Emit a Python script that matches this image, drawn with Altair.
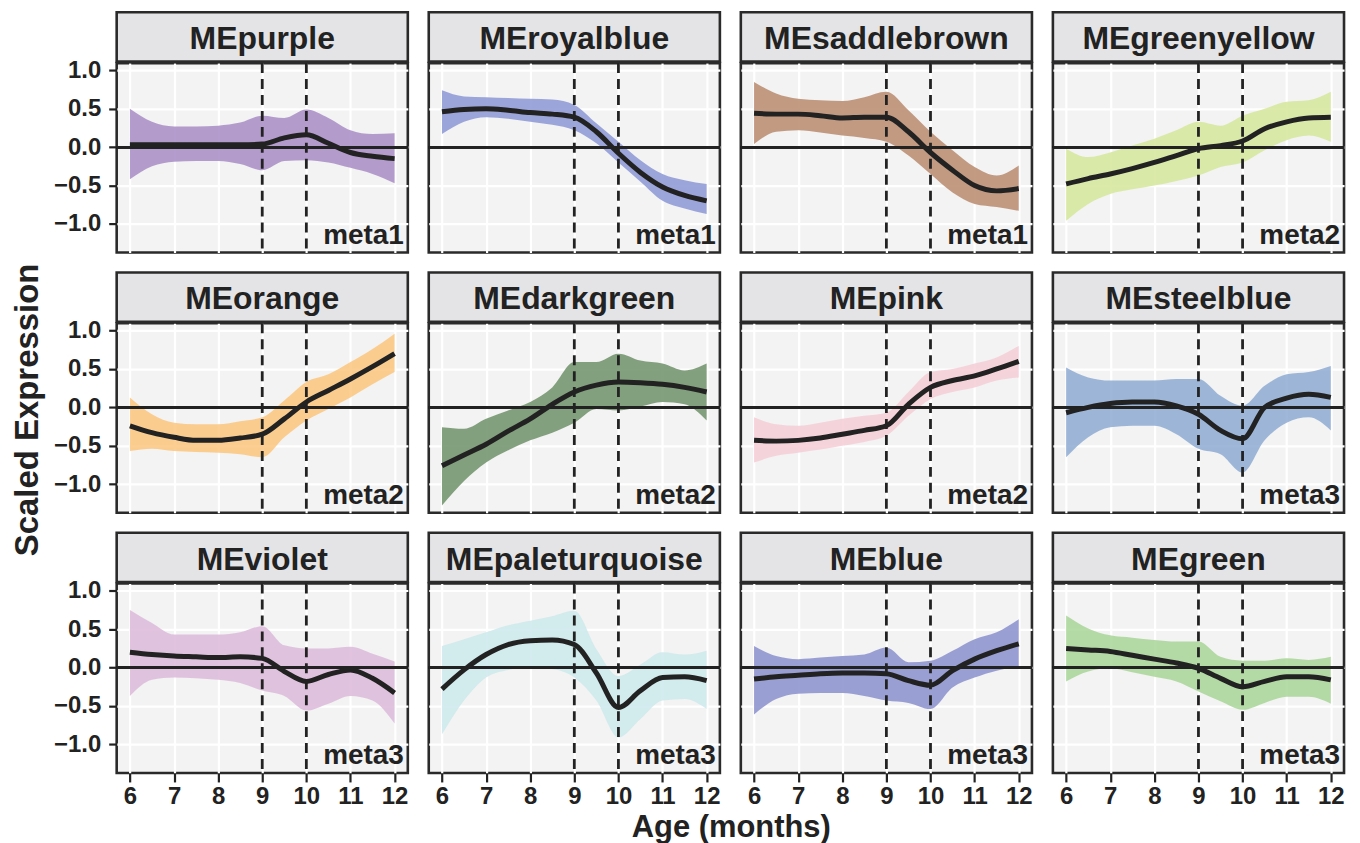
import altair as alt
import pandas as pd

ages = [6, 6.5, 7, 7.5, 8, 8.5, 9, 9.5, 10, 10.5, 11, 11.5, 12]

modules = ["MEpurple", "MEroyalblue", "MEsaddlebrown", "MEgreenyellow",
           "MEorange", "MEdarkgreen", "MEpink", "MEsteelblue",
           "MEviolet", "MEpaleturquoise", "MEblue", "MEgreen"]
metas = ["meta1", "meta1", "meta1", "meta2",
         "meta2", "meta2", "meta2", "meta3",
         "meta3", "meta3", "meta3", "meta3"]
fills = ["#a88bc5", "#8c96d5", "#b98a6d", "#d5e69a",
         "#fbc67e", "#6f9069", "#f6cdd6", "#8eaad2",
         "#dcb8d9", "#cce9ec", "#8a8fcc", "#a8d596"]

fit = {
    "MEpurple": [0.03, 0.03, 0.03, 0.03, 0.03, 0.03, 0.04, 0.12, 0.16, 0.05, -0.07, -0.12, -0.15],
    "MEroyalblue": [0.46, 0.49, 0.50, 0.48, 0.45, 0.43, 0.39, 0.20, -0.08, -0.33, -0.52, -0.63, -0.70],
    "MEsaddlebrown": [0.44, 0.43, 0.43, 0.41, 0.38, 0.39, 0.39, 0.20, -0.07, -0.30, -0.50, -0.57, -0.54],
    "MEgreenyellow": [-0.48, -0.41, -0.35, -0.28, -0.20, -0.11, -0.02, 0.02, 0.08, 0.24, 0.33, 0.38, 0.39],
    "MEorange": [-0.24, -0.33, -0.39, -0.43, -0.43, -0.40, -0.35, -0.15, 0.07, 0.22, 0.37, 0.53, 0.70],
    "MEdarkgreen": [-0.76, -0.62, -0.48, -0.31, -0.15, 0.04, 0.20, 0.29, 0.33, 0.32, 0.30, 0.26, 0.20],
    "MEpink": [-0.43, -0.44, -0.43, -0.40, -0.35, -0.30, -0.24, 0.04, 0.26, 0.35, 0.41, 0.50, 0.60],
    "MEsteelblue": [-0.07, 0.00, 0.05, 0.07, 0.07, 0.02, -0.09, -0.30, -0.41, 0.00, 0.12, 0.17, 0.13],
    "MEviolet": [0.20, 0.17, 0.15, 0.14, 0.13, 0.14, 0.12, -0.05, -0.18, -0.09, -0.03, -0.14, -0.33],
    "MEpaleturquoise": [-0.28, -0.03, 0.17, 0.30, 0.35, 0.36, 0.30, -0.07, -0.52, -0.30, -0.13, -0.12, -0.17],
    "MEblue": [-0.15, -0.12, -0.10, -0.08, -0.07, -0.07, -0.08, -0.17, -0.23, -0.04, 0.11, 0.22, 0.31],
    "MEgreen": [0.25, 0.23, 0.21, 0.16, 0.11, 0.06, -0.01, -0.14, -0.25, -0.18, -0.12, -0.12, -0.16],
}
lower = {
    "MEpurple": [-0.42, -0.25, -0.19, -0.18, -0.18, -0.22, -0.30, -0.18, -0.17, -0.20, -0.27, -0.35, -0.47],
    "MEroyalblue": [0.17, 0.33, 0.39, 0.37, 0.33, 0.29, 0.22, 0.05, -0.20, -0.45, -0.70, -0.80, -0.87],
    "MEsaddlebrown": [0.04, 0.20, 0.22, 0.19, 0.15, 0.12, 0.07, -0.11, -0.35, -0.59, -0.74, -0.78, -0.83],
    "MEgreenyellow": [-0.96, -0.74, -0.61, -0.55, -0.50, -0.44, -0.37, -0.26, -0.20, -0.04, 0.09, 0.15, 0.07],
    "MEorange": [-0.57, -0.54, -0.57, -0.58, -0.59, -0.61, -0.65, -0.39, -0.17, -0.02, 0.13, 0.30, 0.46],
    "MEdarkgreen": [-1.28, -0.96, -0.72, -0.56, -0.43, -0.33, -0.20, -0.02, -0.04, 0.01, 0.07, 0.04, -0.17],
    "MEpink": [-0.72, -0.63, -0.59, -0.55, -0.50, -0.45, -0.37, -0.11, 0.11, 0.20, 0.26, 0.35, 0.39],
    "MEsteelblue": [-0.65, -0.39, -0.26, -0.24, -0.24, -0.35, -0.54, -0.61, -0.85, -0.43, -0.20, -0.13, -0.30],
    "MEviolet": [-0.37, -0.16, -0.13, -0.14, -0.16, -0.20, -0.30, -0.37, -0.56, -0.47, -0.37, -0.43, -0.73],
    "MEpaleturquoise": [-0.87, -0.43, -0.13, -0.03, 0.00, -0.02, -0.13, -0.43, -0.91, -0.67, -0.43, -0.41, -0.54],
    "MEblue": [-0.61, -0.41, -0.34, -0.33, -0.33, -0.37, -0.43, -0.46, -0.54, -0.26, -0.13, -0.04, 0.02],
    "MEgreen": [-0.18, -0.05, -0.01, -0.06, -0.12, -0.18, -0.31, -0.44, -0.55, -0.46, -0.38, -0.38, -0.47],
}
upper = {
    "MEpurple": [0.50, 0.33, 0.27, 0.27, 0.28, 0.32, 0.41, 0.38, 0.49, 0.38, 0.22, 0.17, 0.18],
    "MEroyalblue": [0.74, 0.66, 0.65, 0.64, 0.63, 0.62, 0.55, 0.31, 0.07, -0.17, -0.35, -0.43, -0.48],
    "MEsaddlebrown": [0.85, 0.70, 0.63, 0.61, 0.60, 0.65, 0.72, 0.48, 0.20, -0.04, -0.26, -0.37, -0.24],
    "MEgreenyellow": [-0.02, -0.13, -0.07, 0.02, 0.11, 0.22, 0.33, 0.28, 0.41, 0.50, 0.59, 0.61, 0.72],
    "MEorange": [0.13, -0.09, -0.20, -0.22, -0.22, -0.18, -0.13, 0.09, 0.33, 0.43, 0.59, 0.76, 0.96],
    "MEdarkgreen": [-0.26, -0.28, -0.15, -0.04, 0.07, 0.26, 0.59, 0.59, 0.70, 0.61, 0.57, 0.48, 0.57],
    "MEpink": [-0.13, -0.22, -0.24, -0.20, -0.15, -0.11, -0.07, 0.20, 0.46, 0.50, 0.57, 0.65, 0.80],
    "MEsteelblue": [0.52, 0.39, 0.35, 0.35, 0.35, 0.37, 0.37, 0.15, 0.02, 0.28, 0.43, 0.46, 0.54],
    "MEviolet": [0.75, 0.58, 0.43, 0.43, 0.43, 0.46, 0.54, 0.29, 0.25, 0.25, 0.27, 0.18, 0.08],
    "MEpaleturquoise": [0.28, 0.37, 0.46, 0.55, 0.61, 0.67, 0.74, 0.24, -0.11, 0.04, 0.20, 0.17, 0.22],
    "MEblue": [0.28, 0.15, 0.11, 0.13, 0.15, 0.17, 0.26, 0.07, 0.09, 0.22, 0.37, 0.46, 0.63],
    "MEgreen": [0.68, 0.51, 0.42, 0.39, 0.36, 0.34, 0.34, 0.14, 0.09, 0.09, 0.12, 0.10, 0.14],
}

x_ticks = [6, 7, 8, 9, 10, 11, 12]
y_ticks = [-1.0, -0.5, 0.0, 0.5, 1.0]
vlines = [9, 10]

W, H, SH = 292, 190, 51
FONT = "Liberation Sans"
INK = "#222222"
BORDER = "#2a2a2a"
XDOM = [5.7, 12.3]
YDOM = [-1.373, 1.095]


def panel(i):
    name = modules[i]
    row, col = divmod(i, 4)
    df = pd.DataFrame({"age": ages, "fit": fit[name], "lo": lower[name], "hi": upper[name]})
    show_x = row == 2
    show_y = col == 0
    xaxis = alt.Axis(values=x_ticks, grid=True, gridColor="white", gridWidth=2.2,
                     labels=show_x, ticks=show_x, domain=False, title=None,
                     labelFontSize=24, labelFontWeight="bold", labelFont=FONT,
                     labelColor=INK, tickColor=INK, tickWidth=2.2, tickSize=9,
                     labelPadding=3, format="d")
    yaxis = alt.Axis(values=y_ticks, grid=True, gridColor="white", gridWidth=2.2,
                     labels=show_y, ticks=show_y, domain=False, title=None,
                     labelFontSize=24, labelFontWeight="bold", labelFont=FONT,
                     labelColor=INK, tickColor=INK, tickWidth=2.2, tickSize=8,
                     labelPadding=8, format=".1f")
    xs = alt.Scale(domain=XDOM, nice=False, zero=False)
    ys = alt.Scale(domain=YDOM, nice=False, zero=False)
    base = alt.Chart(df)
    zero = base.mark_rule(color=INK, strokeWidth=2.4).encode(
        y=alt.datum(0, scale=ys))
    area = base.mark_area(color=fills[i], opacity=0.85, interpolate="monotone").encode(
        x=alt.X("age:Q", scale=xs, axis=xaxis),
        y=alt.Y("lo:Q", scale=ys, axis=yaxis),
        y2="hi:Q")
    vl = alt.Chart(pd.DataFrame({"v": vlines})).mark_rule(
        color=INK, strokeWidth=2.8, strokeDash=[10, 6]).encode(
        x=alt.X("v:Q", scale=xs, axis=xaxis))
    line = base.mark_line(color=INK, strokeWidth=5, interpolate="monotone").encode(
        x=alt.X("age:Q", scale=xs, axis=xaxis),
        y=alt.Y("fit:Q", scale=ys, axis=yaxis))
    label = alt.Chart(pd.DataFrame({"t": [metas[i]]})).mark_text(
        align="right", baseline="alphabetic", fontSize=28, fontWeight="bold",
        font=FONT, color=INK).encode(
        text="t:N", x=alt.value(W - 4), y=alt.value(H - 9))
    sdf = pd.DataFrame({"t": [name]})
    strip_box = alt.Chart(sdf).mark_rect(
        fill="#e4e4e6", stroke=BORDER, strokeWidth=2.6).encode(
        x=alt.value(0), x2=alt.value(W), y=alt.value(-SH), y2=alt.value(-1.5))
    strip_text = alt.Chart(sdf).mark_text(
        fontSize=32, fontWeight="bold", font=FONT, color=INK,
        align="center", baseline="alphabetic").encode(
        text="t:N", x=alt.value(W / 2), y=alt.value(-SH + 37))
    return alt.layer(area, zero, vl, line, label, strip_box, strip_text).properties(
        width=W, height=H,
        view=alt.ViewBackground(fill="#f2f3f2", stroke=BORDER, strokeWidth=2.6))


rows = [alt.hconcat(*[panel(r * 4 + c) for c in range(4)], spacing=15) for r in range(3)]
grid = alt.vconcat(*rows, spacing=14).properties(
    title=alt.TitleParams("Scaled Expression", orient="left", anchor="middle",
                          fontSize=33, fontWeight="bold", font=FONT, color=INK, offset=7))
chart = alt.vconcat(grid).properties(
    title=alt.TitleParams("Age (months)", orient="bottom", anchor="middle",
                          fontSize=31, fontWeight="bold", font=FONT, color=INK,
                          offset=3, dx=52),
    padding={"left": 4, "top": 0, "right": 5, "bottom": 0},
).configure_view(strokeWidth=0)

chart.save("out.html", embed_options={"renderer": "svg", "actions": False})
